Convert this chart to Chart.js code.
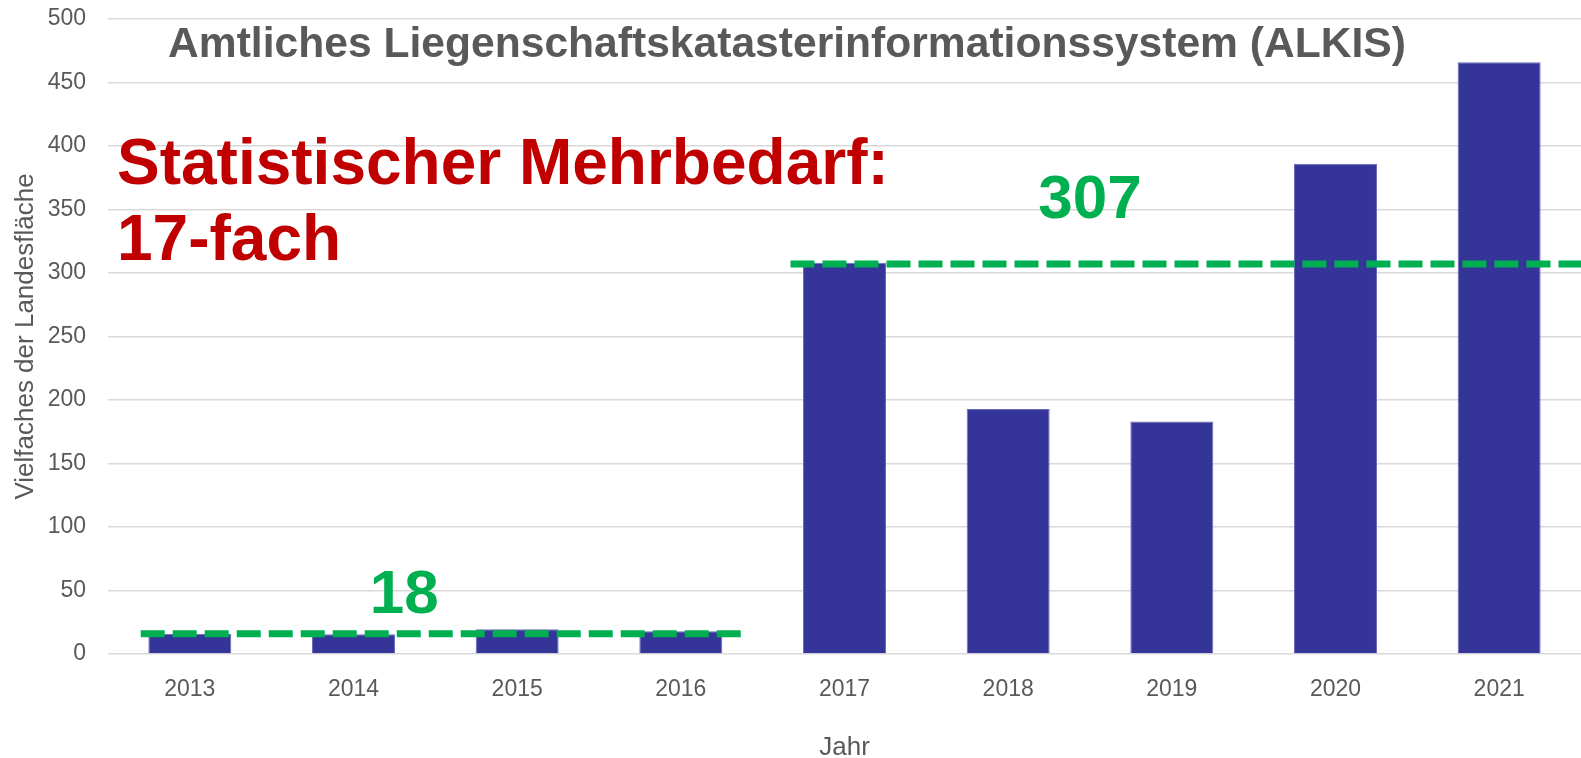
<!DOCTYPE html>
<html>
<head>
<meta charset="utf-8">
<script src="https://cdn.jsdelivr.net/npm/chart.js@4.4.0/dist/chart.umd.min.js"></script>
<style>
html, body { margin: 0; padding: 0; background: #fff; }
#wrap { width: 1581px; height: 758px; }
</style>
</head>
<body>
<div id="wrap"><canvas id="myChart"></canvas></div>
<script>
// Daten
const jahre = ['2013', '2014', '2015', '2016', '2017', '2018', '2019', '2020', '2021'];
const vielfaches = [16, 15.5, 19.5, 18, 308, 193, 183, 386, 466];

// Mittelwerte (gestrichelt), x in Kategorie-Einheiten
const mittelAlt = [{ x: -0.3, y: 16 }, { x: 3.37, y: 16 }];
const mittelNeu = [{ x: 3.67, y: 307 }, { x: 8.5, y: 307 }];

const titel = 'Amtliches Liegenschaftskatasterinformationssystem (ALKIS)';
const hinweis = ['Statistischer Mehrbedarf:', '17-fach'];
const labelAlt = '18';
const labelNeu = '307';

const grau = '#595959';
const gruen = '#00B050';
const rot = '#C00000';
const schrift = '"Liberation Sans", Arial, sans-serif';

// Texte im Diagramm
const textePlugin = {
    id: 'texte',
    afterDatasetsDraw(chart) {
        const ctx = chart.ctx;
        const xl = chart.scales.xl;
        const y = chart.scales.y;
        ctx.save();
        ctx.textBaseline = 'alphabetic';

        ctx.fillStyle = grau;
        ctx.textAlign = 'center';
        ctx.font = 'bold 42.6px ' + schrift;
        ctx.fillText(titel, 787, 57);

        ctx.fillStyle = rot;
        ctx.textAlign = 'left';
        ctx.font = 'bold 64px ' + schrift;
        ctx.fillText(hinweis[0], 117, 184);
        ctx.fillText(hinweis[1], 117, 260);

        ctx.fillStyle = gruen;
        ctx.textAlign = 'center';
        ctx.font = 'bold 62px ' + schrift;
        ctx.fillText(labelNeu, xl.getPixelForValue(5.5), y.getPixelForValue(307) - 46);
        ctx.fillText(labelAlt, xl.getPixelForValue(1.31), y.getPixelForValue(16) - 21);
        ctx.restore();
    }
};

const data = {
    labels: jahre,
    datasets: [
        {
            type: 'line',
            data: mittelAlt,
            xAxisID: 'xl',
            borderColor: gruen,
            borderWidth: 7,
            borderDash: [24, 8],
            borderCapStyle: 'butt',
            pointRadius: 0,
            order: 0
        },
        {
            type: 'line',
            data: mittelNeu,
            xAxisID: 'xl',
            borderColor: gruen,
            borderWidth: 7,
            borderDash: [24, 8],
            borderCapStyle: 'butt',
            pointRadius: 0,
            order: 0
        },
        {
            type: 'bar',
            data: vielfaches,
            xAxisID: 'x',
            backgroundColor: '#353599',
            borderColor: '#6a6abd',
            borderWidth: 1,
            grouped: false,
            barPercentage: 0.507,
            categoryPercentage: 1,
            order: 1
        }
    ]
};

const options = {
    responsive: true,
    maintainAspectRatio: false,
    animation: false,
    layout: { padding: { top: 19, right: 0, left: 0, bottom: 0 } },
    plugins: {
        legend: { display: false },
        tooltip: { enabled: false }
    },
    scales: {
        x: {
            type: 'category',
            offset: true,
            grid: { display: false },
            border: { display: false },
            ticks: { color: grau, font: { family: schrift, size: 23 }, padding: 14 },
            title: { display: true, text: 'Jahr', color: grau, font: { family: schrift, size: 26, lineHeight: 0.77 }, padding: 0 },
            afterFit(scale) { scale.height = 104; }
        },
        xl: {
            type: 'linear',
            display: false,
            offset: false,
            min: -0.5,
            max: 8.5
        },
        y: {
            min: 0,
            max: 500,
            ticks: { stepSize: 50, color: grau, font: { family: schrift, size: 23 }, padding: 22 },
            grid: { color: '#d9d9d9', lineWidth: 1.5, drawTicks: false },
            border: { display: false },
            title: { display: true, text: 'Vielfaches der Landesfläche', color: grau, font: { family: schrift, size: 26 }, padding: { top: 10, bottom: 0 } },
            afterFit(scale) {
                scale.width = 108;
                scale.paddingTop = 0;
                scale.paddingBottom = 0;
            }
        }
    }
};

const config = {
    type: 'bar',
    data,
    options,
    plugins: [textePlugin]
};

const myChart = new Chart(document.getElementById('myChart').getContext('2d'), config);
</script>
</body>
</html>
